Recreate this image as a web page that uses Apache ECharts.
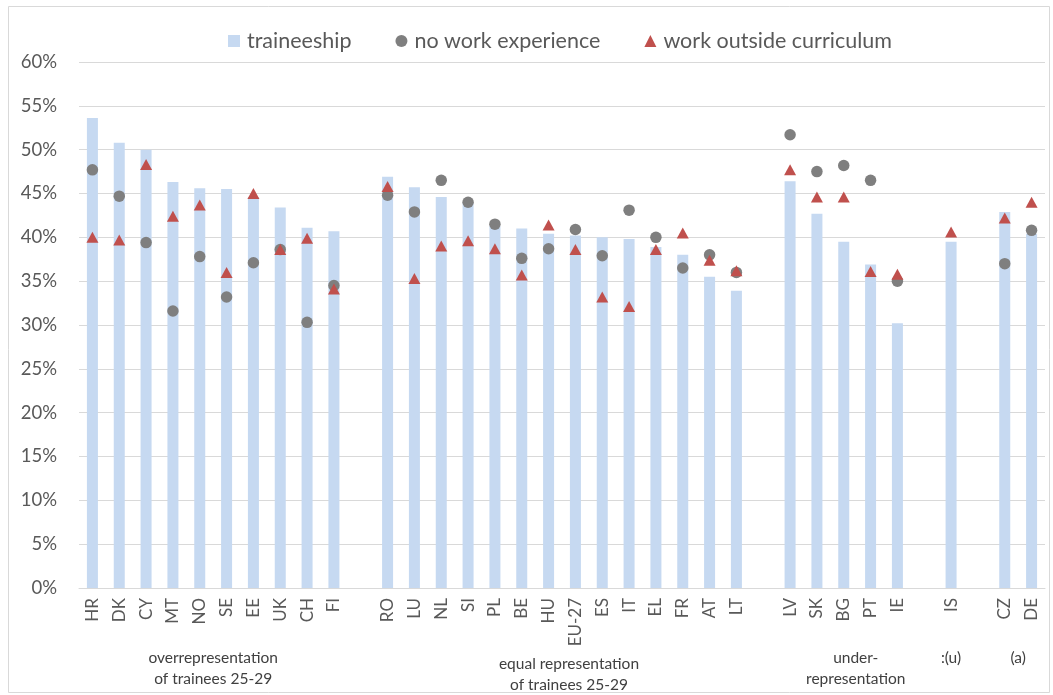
<!DOCTYPE html>
<html>
<head>
<meta charset="utf-8">
<script src="https://cdn.jsdelivr.net/npm/echarts@6/dist/echarts.min.js"></script>
<style>
html,body{margin:0;padding:0;background:#fff;}
#c{width:1053px;height:695px;}
</style>
</head>
<body>
<div id="c"></div>
<script>
const categories = ['HR','DK','CY','MT','NO','SE','EE','UK','CH','FI',' ','RO','LU','NL','SI','PL','BE','HU','EU-27','ES','IT','EL','FR','AT','LT','  ','LV','SK','BG','PT','IE','   ','IS','    ','CZ','DE'];
const traineeship = [53.6,50.8,50.0,46.3,45.6,45.5,44.6,43.4,41.1,40.7,null,46.9,45.7,44.6,43.9,41.3,41.0,40.4,40.2,40.0,39.8,38.9,38.0,35.5,33.9,null,46.4,42.7,39.5,36.9,30.2,null,39.5,null,42.9,40.4];
const noWorkExperience = [47.7,44.7,39.4,31.6,37.8,33.2,37.1,38.6,30.3,34.5,null,44.8,42.9,46.5,44.0,41.5,37.6,38.7,40.9,37.9,43.1,40.0,36.5,38.0,36.0,null,51.7,47.5,48.2,46.5,35.0,null,null,null,37.0,40.8];
const workOutsideCurriculum = [40.0,39.7,48.3,42.4,43.7,36.0,45.0,38.6,39.9,34.1,null,45.8,35.3,39.0,39.6,38.7,35.7,41.4,38.6,33.2,32.1,38.6,40.5,37.4,36.2,null,47.7,44.6,44.6,36.1,35.8,null,40.6,null,42.2,44.0];
const seriesNames = ['traineeship','no work experience','work outside curriculum'];
const groupLabels = ['overrepresentation\nof trainees 25-29','equal representation\nof trainees 25-29','under-\nrepresentation',':(u)','(a)'];
const groupFirst = ['HR','RO','LV','IS','CZ'];
const groupLast = ['FI','LT','IE','IS','DE'];

const FONT = 'Lato';
const chart = echarts.init(document.getElementById('c'));
const option = {
  animation: false,
  backgroundColor: '#fff',
  textStyle: {fontFamily: FONT},
  legend: {
    top: 25, left: 223,
    itemGap: 44,
    itemWidth: 12, itemHeight: 12,
    textStyle: {fontFamily: FONT, fontSize: 21.5, color: '#595959', padding: [0, 0, 0, 2]},
    data: [
      {name: seriesNames[0], icon: 'rect'},
      {name: seriesNames[1], icon: 'circle'},
      {name: seriesNames[2], icon: 'triangle'}
    ]
  },
  grid: {left: 79, right: 8, top: 62, bottom: 107, containLabel: false},
  xAxis: {
    type: 'category',
    data: categories,
    boundaryGap: true,
    axisLine: {lineStyle: {color: '#D9D9D9', width: 1}},
    axisTick: {show: false},
    axisLabel: {rotate: 90, interval: 0, margin: 10, fontFamily: FONT, fontSize: 17, color: '#595959'}
  },
  yAxis: {
    type: 'value', min: 0, max: 60, interval: 5,
    axisLine: {show: false}, axisTick: {show: false},
    splitLine: {lineStyle: {color: '#D9D9D9', width: 1}},
    axisLabel: {formatter: '{value}%', margin: 22, fontFamily: FONT, fontSize: 18.5, color: '#595959'}
  },
  series: [
    {name: seriesNames[0], type: 'bar', data: traineeship, barWidth: 11, itemStyle: {color: '#C6D9F1'}, z: 1},
    {name: seriesNames[1], type: 'scatter', data: noWorkExperience, symbol: 'circle', symbolSize: 11.5, itemStyle: {color: '#7F7F7F', opacity: 1}, z: 3},
    {name: seriesNames[2], type: 'scatter', data: workOutsideCurriculum, symbol: 'triangle', symbolSize: [12, 11], itemStyle: {color: '#C0504D', opacity: 1}, z: 4}
  ]
};
chart.setOption(option);

// group captions under the axis, centred on their category span
const dx = [0, 7, 12, 0, 0];
const yTop = [647, 653, 647, 647, 647];
const graphics = [{
  type: 'rect', shape: {x: 8.5, y: 6.5, width: 1041, height: 686},
  style: {fill: null, stroke: '#D9D9D9', lineWidth: 1}, silent: true, z: -1
}];
groupLabels.forEach((t, i) => {
  const a = chart.convertToPixel({xAxisIndex: 0}, categories.indexOf(groupFirst[i]));
  const b = chart.convertToPixel({xAxisIndex: 0}, categories.indexOf(groupLast[i]));
  graphics.push({
    type: 'text', x: (a + b) / 2 + dx[i], y: yTop[i],
    style: {text: t, fill: '#404040', font: '15.5px ' + FONT, textAlign: 'center', textVerticalAlign: 'top', lineHeight: 21}
  });
});
chart.setOption({graphic: graphics});
</script>
</body>
</html>
